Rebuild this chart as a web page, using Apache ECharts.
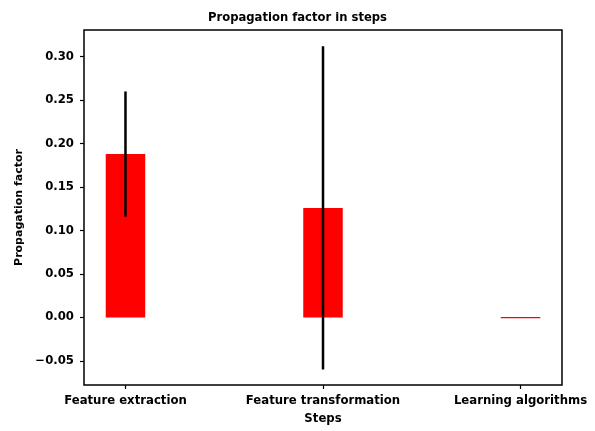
<!DOCTYPE html>
<html>
<head>
<meta charset="utf-8">
<script src="https://cdn.jsdelivr.net/npm/echarts@6/dist/echarts.min.js"></script>
<style>html,body{margin:0;padding:0;background:#fff}#c{width:595px;height:431px}</style>
</head>
<body>
<div id="c"></div>
<script>
const categories = ['Feature extraction', 'Feature transformation', 'Learning algorithms'];
const values = [0.188, 0.126, 0.0];
const errors = [0.072, 0.186, 0.0];
const yTicks = [-0.05, 0.00, 0.05, 0.10, 0.15, 0.20, 0.25, 0.30];

const font = 'DejaVu Sans';
const chart = echarts.init(document.getElementById('c'), null, {renderer: 'canvas'});
const barData = values.map((v, i) => [i, v]);
const errData = values.map((v, i) => [i, v - errors[i], v + errors[i]]);

chart.setOption({
  animation: false,
  backgroundColor: '#fff',
  title: {
    text: 'Propagation factor in steps',
    left: 'center', top: 7,
    textStyle: {fontFamily: font, fontSize: 11.6, fontWeight: 'bold', color: '#000'}
  },
  grid: {left: 84, right: 33, top: 30, bottom: 46, show: true, borderColor: '#000', borderWidth: 1.5,
    backgroundColor: 'transparent', containLabel: false, outerBoundsMode: 'none'},
  xAxis: {
    type: 'value', min: -0.21, max: 2.21,
    name: 'Steps', nameLocation: 'middle', nameGap: 28,
    nameTextStyle: {fontFamily: font, fontSize: 11.7, fontWeight: 'bold', color: '#000'},
    axisLine: {show: false, onZero: false},
    splitLine: {show: false},
    axisTick: {show: true, customValues: [0, 1, 2], length: 4, lineStyle: {color: '#000', width: 1.2}},
    axisLabel: {customValues: [0, 1, 2], margin: 10, fontFamily: font, fontSize: 11.7, fontWeight: 'bold', color: '#000',
      formatter: v => categories[Math.round(v)]}
  },
  yAxis: {
    type: 'value', min: -0.0777, max: 0.3307,
    name: 'Propagation factor', nameLocation: 'middle', nameGap: 58,
    nameTextStyle: {fontFamily: font, fontSize: 11, fontWeight: 'bold', color: '#000'},
    axisLine: {show: false, onZero: false},
    splitLine: {show: false},
    axisTick: {show: true, customValues: yTicks, length: 4, lineStyle: {color: '#000', width: 1.2}},
    axisLabel: {customValues: yTicks, margin: 10, fontFamily: font, fontSize: 11.7, fontWeight: 'bold', color: '#000',
      formatter: v => (v < 0 ? '\u2212' : '') + Math.abs(v).toFixed(2)}
  },
  series: [
    {
      type: 'custom',
      data: barData,
      renderItem: (params, api) => {
        const x = api.value(0), v = api.value(1);
        const p0 = api.coord([x - 0.1, 0]);
        const p1 = api.coord([x + 0.1, v]);
        let top = Math.min(p0[1], p1[1]);
        let h = Math.abs(p0[1] - p1[1]);
        if (h < 1) { h = 1.2; top = Math.floor(p0[1]); }
        return {type: 'rect', shape: {x: p0[0], y: top, width: p1[0] - p0[0], height: h},
          style: {fill: '#ff0000'}};
      }
    },
    {
      type: 'custom',
      data: errData,
      z: 5,
      renderItem: (params, api) => {
        const x = api.value(0);
        const a = api.coord([x, api.value(1)]);
        const b = api.coord([x, api.value(2)]);
        if (Math.abs(a[1] - b[1]) < 0.5) return null;
        return {type: 'line', shape: {x1: a[0], y1: a[1], x2: b[0], y2: b[1]},
          style: {stroke: '#000', lineWidth: 2.5}};
      }
    }
  ]
});
</script>
</body>
</html>
